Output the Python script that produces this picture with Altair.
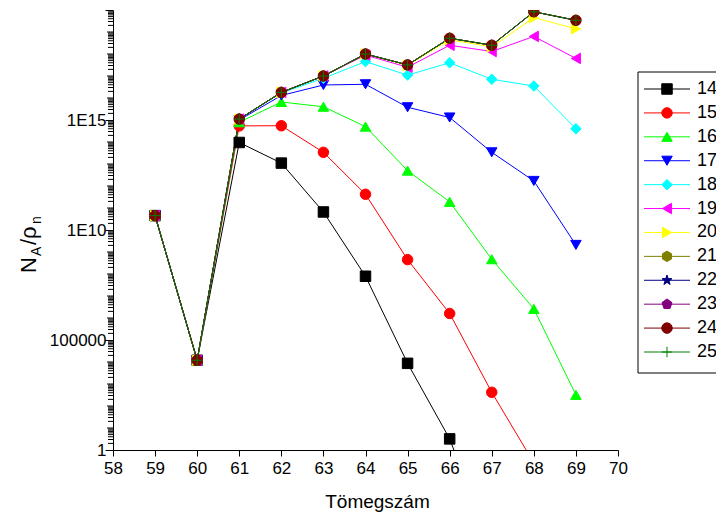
import altair as alt
import pandas as pd

names = ["14", "15", "16", "17", "18", "19", "20", "21", "22", "23", "24", "25"]
mass = [59, 60, 61, 62, 63, 64, 65, 66, 67, 68, 69]

s14 = [4.5e10, 1.2e4, 9.5e13, 1.1e13, 6.6e10, 7.9e7, 8.7e3, 3.2, 3.2e-5]
s15 = [4.5e10, 1.2e4, 5.4e14, 5.5e14, 3.4e13, 4.2e11, 4.5e8, 1.6e6, 4.2e2, 2.6e-1]
s16 = [4.5e10, 1.2e4, 7.9e14, 6.6e15, 4.0e15, 5.0e14, 5.0e12, 1.9e11, 4.7e8, 2.6e6, 3.2e2]
s17 = [4.5e10, 1.2e4, 1.0e15, 1.3e16, 3.9e16, 4.2e16, 3.8e15, 1.3e15, 3.4e13, 1.7e12, 2.1e9]
s18 = [4.5e10, 1.2e4, 1.1e15, 1.7e16, 7.9e16, 4.5e17, 1.1e17, 4.0e17, 7.1e16, 3.5e16, 4.0e14]
s19 = [4.5e10, 1.2e4, 1.1e15, 1.8e16, 1.0e17, 8.9e17, 2.5e17, 2.5e18, 1.3e18, 6.3e18, 6.3e17]
s20 = [4.5e10, 1.2e4, 1.1e15, 1.8e16, 1.0e17, 1.0e18, 3.0e17, 4.5e18, 2.1e18, 4.5e19, 1.4e19]
s21 = [4.5e10, 1.2e4, 1.1e15, 1.8e16, 1.0e17, 1.0e18, 3.2e17, 5.2e18, 2.5e18, 8.3e19, 3.4e19]
s22 = [4.5e10, 1.2e4, 1.1e15, 1.8e16, 1.0e17, 1.0e18, 3.2e17, 5.2e18, 2.5e18, 8.3e19, 3.4e19]
s23 = [4.5e10, 1.2e4, 1.1e15, 1.8e16, 1.0e17, 1.0e18, 3.2e17, 5.2e18, 2.5e18, 8.3e19, 3.4e19]
s24 = [4.5e10, 1.2e4, 1.1e15, 1.8e16, 1.0e17, 1.0e18, 3.2e17, 5.2e18, 2.5e18, 8.3e19, 3.4e19]
s25 = [4.5e10, 1.2e4, 1.1e15, 1.8e16, 1.0e17, 1.0e18, 3.2e17, 5.2e18, 2.5e18, 8.3e19, 3.4e19]

series_values = [s14, s15, s16, s17, s18, s19, s20, s21, s22, s23, s24, s25]

colors = ["#000000", "#FF0000", "#00FF00", "#0000FF", "#00FFFF", "#FF00FF",
          "#FFFF00", "#808000", "#000080", "#800080", "#800000", "#008000"]

HEX = "M0,-1L0.866,-0.5L0.866,0.5L0,1L-0.866,0.5L-0.866,-0.5Z"
STAR = ("M0,-1L0.235,-0.324L0.951,-0.309L0.380,0.124L0.588,0.809L0,0.4"
        "L-0.588,0.809L-0.380,0.124L-0.951,-0.309L-0.235,-0.324Z")
PENT = "M0,-1L0.951,-0.309L0.588,0.809L-0.588,0.809L-0.951,-0.309Z"
PLUS = "M-1,0L1,0M0,-1L0,1"
shapes = ["square", "circle", "triangle-up", "triangle-down", "diamond", "triangle-left",
          "triangle-right", HEX, STAR, PENT, "circle", PLUS]
fills = colors[:-1] + ["transparent"]

rows = []
k = 0
for n, vals in zip(names, series_values):
    for m, v in zip(mass, vals):
        rows.append({"series": n, "A": m, "val": v, "k": k})
        k += 1
df = pd.DataFrame(rows)
legend_df = pd.DataFrame({"series": names})

FONT = "Liberation Sans"
W, H = 505, 440

major = [1.0, 1e5, 1e10, 1e15, 1e20]
decade = [float(10 ** d) for d in range(0, 21) if float(10 ** d) not in major]
sub = [float(m * 10 ** d) for d in range(0, 20) for m in range(2, 10)]
decade_df = pd.DataFrame({"v": decade})
sub_df = pd.DataFrame({"v": sub})

label_expr = ("datum.value == 1 ? '1' : datum.value == 1e5 ? '100000' : "
              "datum.value == 1e10 ? '1E10' : datum.value == 1e15 ? '1E15' : ''")

xscale = alt.Scale(domain=[58, 70], nice=False, zero=False)
yscale = alt.Scale(type="log", domain=[1, 1e20], nice=False)

xenc = alt.X("A:Q", scale=xscale,
             axis=alt.Axis(values=list(range(58, 71)), format="d", title="Tömegszám",
                           tickSize=6, labelFontSize=17, labelPadding=4, labelFlush=False,
                           titleFontSize=19, titlePadding=16, titleFont=FONT,
                           titleFontWeight="normal", titleX=264, titleAlign="center"))
yenc = alt.Y("val:Q", scale=yscale,
             axis=alt.Axis(values=major, labelExpr=label_expr, labelOverlap=False,
                           tickSize=8, labelFontSize=17, labelPadding=-1, title=None))

color_enc = alt.Color("series:N", scale=alt.Scale(domain=names, range=colors), legend=None)
shape_enc = alt.Shape("series:N", scale=alt.Scale(domain=names, range=shapes), legend=None)
fill_enc = alt.Fill("series:N", scale=alt.Scale(domain=names, range=fills), legend=None)
stroke_enc = alt.Stroke("series:N", scale=alt.Scale(domain=names, range=colors), legend=None)

# minor ticks of the log axis (first layers)
decade_ticks = alt.Chart(decade_df).mark_rule(color="black", strokeWidth=1).encode(
    x=alt.value(-6), x2=alt.value(0),
    y=alt.Y("v:Q", scale=yscale, axis=None))
sub_ticks = alt.Chart(sub_df).mark_rule(color="black", strokeWidth=1).encode(
    x=alt.value(-5), x2=alt.value(0),
    y=alt.Y("v:Q", scale=yscale, axis=None))

base = alt.Chart(df)
lines = base.mark_line(strokeWidth=1, clip=True).encode(
    x=xenc, y=yenc, color=color_enc, detail="series:N", order="A:Q")
points = base.mark_point(filled=True, size=110, opacity=1, strokeWidth=1, clip=True).encode(
    x=alt.X("A:Q", scale=xscale),
    y=alt.Y("val:Q", scale=yscale, axis=None),
    shape=shape_enc, fill=fill_enc, stroke=stroke_enc, order="k:Q")

leg_y = alt.Y("series:N", scale=alt.Scale(type="point", domain=names, range=[79, 342], padding=0), axis=None)
frame = alt.Chart(pd.DataFrame({"a": [0]})).mark_rect(fill="white", stroke="black", strokeWidth=1).encode(
    x=alt.value(525), x2=alt.value(640), y=alt.value(62), y2=alt.value(363))
leg_lines = alt.Chart(legend_df).mark_rule(strokeWidth=1).encode(
    x=alt.value(531), x2=alt.value(577), y=leg_y, color=color_enc)
leg_pts = alt.Chart(legend_df).mark_point(filled=True, size=110, opacity=1, strokeWidth=1).encode(
    x=alt.value(554), y=leg_y, shape=shape_enc, fill=fill_enc, stroke=stroke_enc)
leg_text = alt.Chart(legend_df).mark_text(align="left", baseline="middle", fontSize=18, font=FONT,
                                          color="black").encode(
    x=alt.value(584), y=leg_y, text="series:N")

def ytitle(txt, size, x, y):
    return alt.Chart(pd.DataFrame({"t": [txt]})).mark_text(
        angle=270, align="left", baseline="alphabetic", fontSize=size, font=FONT, color="black"
    ).encode(x=alt.value(x), y=alt.value(y), text="t:N")

yt = (ytitle("N", 22, -77, 263) + ytitle("A", 14, -72, 246)
      + ytitle("/ρ", 22, -77, 235) + ytitle("n", 14, -72, 214))

chart = alt.layer(decade_ticks, sub_ticks, lines, points, frame, leg_lines, leg_pts, leg_text, yt).resolve_scale(
    y="independent"
).properties(
    width=W, height=H,
    autosize=alt.AutoSizeParams(type="none"),
    padding={"left": 113, "top": 10, "right": 98, "bottom": 67},
    background="white",
).configure_view(stroke=None).configure_axis(
    grid=False, domainColor="black", tickColor="black", labelColor="black", titleColor="black",
    labelFont=FONT, titleFont=FONT, domainWidth=1, tickWidth=1
)

chart.save("out.html", embed_options={"renderer": "svg", "actions": False})
